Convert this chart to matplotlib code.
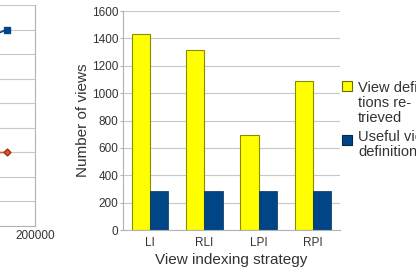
import matplotlib.pyplot as plt
from matplotlib.patches import Rectangle

plt.rcParams['font.family'] = ['Liberation Sans', 'DejaVu Sans']

# dados do grafico de barras
strategies = ['LI', 'RLI', 'LPI', 'RPI']
retrieved = [1430, 1315, 695, 1090]
useful = [283, 283, 283, 283]
series_labels = ['View defini-\ntions re-\ntrieved', 'Useful view\ndefinitions']

# pedaço visivel do grafico de linhas à esquerda
line_x = [100000, 150000, 177000]
line_blue = [66, 74, 80]
line_red = [29, 29.5, 30]
left_ticks = [0, 50000, 100000, 150000, 200000]

yellow = '#ffff00'
blue = '#004586'
grid_c = '#c8c8c8'
txt_c = '#333333'

fig = plt.figure(figsize=(4.16, 2.73), dpi=100)

# grafico da esquerda (cortado)
ax0 = fig.add_axes([-0.516, 0.1722, 0.6013, 0.8095])
ax0.plot(line_x, line_blue, color=blue, marker='s', markersize=4, linewidth=1.2)
ax0.plot(line_x, line_red, color='#e2562a', marker='D', markersize=3.5,
         markeredgecolor='#a02a10', linewidth=1.2)
ax0.set_xlim(0, 200000)
ax0.set_ylim(0, 90)
ax0.set_xticks(left_ticks)
ax0.set_xticklabels(['' for t in left_ticks[:-1]] + [str(left_ticks[-1])])
ax0.set_yticks(range(0, 91, 10))
ax0.set_yticklabels([])
ax0.grid(axis='y', color=grid_c, linewidth=0.8)
ax0.tick_params(length=0, labelsize=8.5, labelcolor=txt_c, pad=3)
for s in ['top', 'left']:
    ax0.spines[s].set_visible(False)
for s in ['right', 'bottom']:
    ax0.spines[s].set_color('#b3b3b3')
ax0.set_axisbelow(True)

# grafico de barras
ax = fig.add_axes([0.2957, 0.1575, 0.5216, 0.8022])
x = range(len(strategies))
w = 0.335
ax.bar([i - w / 2 for i in x], retrieved, width=w, color=yellow,
       edgecolor='#8c8c00', linewidth=0.8)
ax.bar([i + w / 2 for i in x], useful, width=w, color=blue,
       edgecolor='#003060', linewidth=0.5)
ax.set_xlim(-0.5, 3.5)
ax.set_ylim(0, 1600)
ax.set_yticks(range(0, 1601, 200))
ax.set_xticks(list(x))
ax.set_xticklabels(strategies)
ax.grid(axis='y', color=grid_c, linewidth=0.8)
ax.set_axisbelow(True)
ax.tick_params(axis='y', length=2, width=0.8, color='#b3b3b3', labelsize=8.5,
               labelcolor=txt_c, pad=1.5, direction='out')
ax.tick_params(axis='x', length=0, labelsize=8.5, labelcolor=txt_c, pad=5)
for s in ['top', 'right']:
    ax.spines[s].set_visible(False)
for s in ['left', 'bottom']:
    ax.spines[s].set_color('#b3b3b3')
ax.set_ylabel('Number of views', fontsize=11, color=txt_c, labelpad=1)
ax.set_xlabel('View indexing strategy', fontsize=11, color=txt_c, labelpad=3)

# legenda desenhada a mao (cortada na borda, como na figura original)
W, H = 416, 273
for (y_top, col, ec), lab, y_base in zip(
        [(81, yellow, '#6b6b00'), (135, blue, '#002850')],
        series_labels, [92, 141]):
    fig.patches.append(Rectangle((342 / W, 1 - (y_top + 10) / H), 10 / W, 10 / H,
                                 transform=fig.transFigure, facecolor=col,
                                 edgecolor=ec, linewidth=0.8))
    fig.text(358 / W, 1 - y_base / H, lab.split('\n')[0], fontsize=10.5,
             color=txt_c, va='baseline', ha='left')
    for k, extra in enumerate(lab.split('\n')[1:]):
        fig.text(358 / W, 1 - (y_base + 14.8 * (k + 1)) / H, extra,
                 fontsize=10.5, color=txt_c, va='baseline', ha='left')

fig.savefig('out.png', dpi=100)
